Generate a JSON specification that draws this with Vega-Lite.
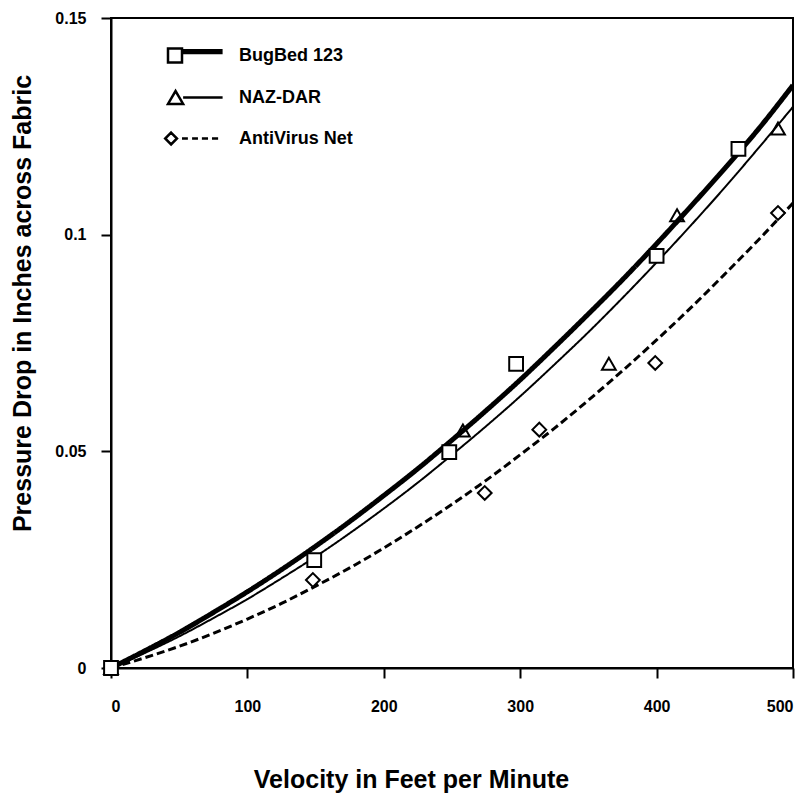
{
  "$schema": "https://vega.github.io/schema/vega-lite/v6.json",
  "width": 682,
  "height": 650,
  "autosize": "none",
  "padding": {"left": 111, "top": 18, "right": 5, "bottom": 125},
  "background": "white",
  "config": {
    "view": {"stroke": "black", "strokeWidth": 2},
    "font": "Liberation Sans",
    "axis": {
      "domainColor": "black", "domainWidth": 2, "tickColor": "black", "tickWidth": 2, "tickSize": 10,
      "labelFont": "Liberation Sans", "labelFontWeight": "bold", "labelFontSize": 16, "labelColor": "black",
      "titleFont": "Liberation Sans", "titleFontWeight": "bold", "titleFontSize": 25, "titleColor": "black",
      "grid": false
    }
  },
  "datasets": {
    "curves": [
      {"series": "BugBed 123", "x": 0, "y": 0},
      {"series": "BugBed 123", "x": 25, "y": 0.0040},
      {"series": "BugBed 123", "x": 50, "y": 0.0082},
      {"series": "BugBed 123", "x": 75, "y": 0.0128},
      {"series": "BugBed 123", "x": 100, "y": 0.0176},
      {"series": "BugBed 123", "x": 125, "y": 0.0227},
      {"series": "BugBed 123", "x": 150, "y": 0.0281},
      {"series": "BugBed 123", "x": 175, "y": 0.0338},
      {"series": "BugBed 123", "x": 200, "y": 0.0398},
      {"series": "BugBed 123", "x": 225, "y": 0.0460},
      {"series": "BugBed 123", "x": 250, "y": 0.0526},
      {"series": "BugBed 123", "x": 275, "y": 0.0594},
      {"series": "BugBed 123", "x": 300, "y": 0.0665},
      {"series": "BugBed 123", "x": 325, "y": 0.0740},
      {"series": "BugBed 123", "x": 350, "y": 0.0817},
      {"series": "BugBed 123", "x": 375, "y": 0.0896},
      {"series": "BugBed 123", "x": 400, "y": 0.0979},
      {"series": "BugBed 123", "x": 425, "y": 0.1065},
      {"series": "BugBed 123", "x": 450, "y": 0.1153},
      {"series": "BugBed 123", "x": 475, "y": 0.1245},
      {"series": "BugBed 123", "x": 500, "y": 0.1345},
      {"series": "NAZ-DAR", "x": 0, "y": 0},
      {"series": "NAZ-DAR", "x": 25, "y": 0.0035},
      {"series": "NAZ-DAR", "x": 50, "y": 0.0073},
      {"series": "NAZ-DAR", "x": 75, "y": 0.0115},
      {"series": "NAZ-DAR", "x": 100, "y": 0.0159},
      {"series": "NAZ-DAR", "x": 125, "y": 0.0207},
      {"series": "NAZ-DAR", "x": 150, "y": 0.0257},
      {"series": "NAZ-DAR", "x": 175, "y": 0.0311},
      {"series": "NAZ-DAR", "x": 200, "y": 0.0368},
      {"series": "NAZ-DAR", "x": 225, "y": 0.0428},
      {"series": "NAZ-DAR", "x": 250, "y": 0.0492},
      {"series": "NAZ-DAR", "x": 275, "y": 0.0558},
      {"series": "NAZ-DAR", "x": 300, "y": 0.0627},
      {"series": "NAZ-DAR", "x": 325, "y": 0.0700},
      {"series": "NAZ-DAR", "x": 350, "y": 0.0775},
      {"series": "NAZ-DAR", "x": 375, "y": 0.0854},
      {"series": "NAZ-DAR", "x": 400, "y": 0.0936},
      {"series": "NAZ-DAR", "x": 425, "y": 0.1021},
      {"series": "NAZ-DAR", "x": 450, "y": 0.1109},
      {"series": "NAZ-DAR", "x": 475, "y": 0.1201},
      {"series": "NAZ-DAR", "x": 500, "y": 0.1295},
      {"series": "AntiVirus Net", "x": 0, "y": 0},
      {"series": "AntiVirus Net", "x": 25, "y": 0.0024},
      {"series": "AntiVirus Net", "x": 50, "y": 0.0050},
      {"series": "AntiVirus Net", "x": 75, "y": 0.0080},
      {"series": "AntiVirus Net", "x": 100, "y": 0.0113},
      {"series": "AntiVirus Net", "x": 125, "y": 0.0149},
      {"series": "AntiVirus Net", "x": 150, "y": 0.0189},
      {"series": "AntiVirus Net", "x": 175, "y": 0.0231},
      {"series": "AntiVirus Net", "x": 200, "y": 0.0277},
      {"series": "AntiVirus Net", "x": 225, "y": 0.0326},
      {"series": "AntiVirus Net", "x": 250, "y": 0.0378},
      {"series": "AntiVirus Net", "x": 275, "y": 0.0433},
      {"series": "AntiVirus Net", "x": 300, "y": 0.0492},
      {"series": "AntiVirus Net", "x": 325, "y": 0.0553},
      {"series": "AntiVirus Net", "x": 350, "y": 0.0618},
      {"series": "AntiVirus Net", "x": 375, "y": 0.0686},
      {"series": "AntiVirus Net", "x": 400, "y": 0.0757},
      {"series": "AntiVirus Net", "x": 425, "y": 0.0831},
      {"series": "AntiVirus Net", "x": 450, "y": 0.0909},
      {"series": "AntiVirus Net", "x": 475, "y": 0.0989},
      {"series": "AntiVirus Net", "x": 500, "y": 0.1073}
    ],
    "points": [
      {"series": "AntiVirus Net", "x": 0, "y": 0},
      {"series": "AntiVirus Net", "x": 148, "y": 0.0203},
      {"series": "AntiVirus Net", "x": 274, "y": 0.0404},
      {"series": "AntiVirus Net", "x": 314, "y": 0.055},
      {"series": "AntiVirus Net", "x": 399, "y": 0.0704},
      {"series": "AntiVirus Net", "x": 489, "y": 0.105},
      {"series": "NAZ-DAR", "x": 0, "y": 0},
      {"series": "NAZ-DAR", "x": 258, "y": 0.0548},
      {"series": "NAZ-DAR", "x": 365, "y": 0.0702},
      {"series": "NAZ-DAR", "x": 415, "y": 0.1045},
      {"series": "NAZ-DAR", "x": 489, "y": 0.1245},
      {"series": "BugBed 123", "x": 0, "y": 0},
      {"series": "BugBed 123", "x": 149, "y": 0.0249},
      {"series": "BugBed 123", "x": 248, "y": 0.0498},
      {"series": "BugBed 123", "x": 297, "y": 0.0702},
      {"series": "BugBed 123", "x": 400, "y": 0.0951},
      {"series": "BugBed 123", "x": 460, "y": 0.1198}
    ]
  },
  "encoding": {
    "x": {
      "field": "x", "type": "quantitative",
      "scale": {"domain": [0, 500], "nice": false, "zero": false},
      "axis": {
        "values": [0, 100, 200, 300, 400, 500], "labelPadding": 20,
        "title": "Velocity in Feet per Minute",
        "titleX": 300, "titleY": 119, "titleBaseline": "alphabetic", "titleAlign": "center", "titleAnchor": "start"
      }
    },
    "y": {
      "field": "y", "type": "quantitative",
      "scale": {"domain": [0, 0.15], "nice": false},
      "axis": {
        "values": [0, 0.05, 0.1, 0.15], "labelExpr": "'' + datum.value", "labelPadding": 15,
        "title": "Pressure Drop in Inches across Fabric",
        "titleX": -81, "titleY": 285, "titleAngle": -90, "titleBaseline": "alphabetic", "titleAlign": "center", "titleAnchor": "start"
      }
    }
  },
  "layer": [
    {
      "data": {"name": "curves"},
      "mark": {"type": "line", "color": "black", "interpolate": "monotone", "clip": true},
      "encoding": {
        "detail": {"field": "series", "type": "nominal"},
        "strokeWidth": {
          "condition": [
            {"test": "datum.series === 'BugBed 123'", "value": 5},
            {"test": "datum.series === 'AntiVirus Net'", "value": 3}
          ],
          "value": 2
        },
        "strokeDash": {
          "condition": {"test": "datum.series === 'AntiVirus Net'", "value": [8, 4]},
          "value": [1, 0]
        }
      }
    },
    {
      "data": {"name": "points"},
      "mark": {"type": "point", "filled": true, "stroke": "black", "strokeWidth": 2, "opacity": 1, "size": 190, "clip": false},
      "encoding": {
        "shape": {
          "condition": [
            {"test": "datum.series === 'NAZ-DAR'", "value": "triangle-up"},
            {"test": "datum.series === 'AntiVirus Net'", "value": "diamond"}
          ],
          "value": "square"
        },
        "fill": {
          "condition": {"test": "datum.series === 'NAZ-DAR'", "value": "transparent"},
          "value": "white"
        }
      }
    },
    {
      "data": {"name": "points"},
      "mark": {"type": "point", "filled": false, "color": "black", "strokeWidth": 2.5, "opacity": 0, "size": 3136, "clip": true},
      "encoding": {
        "shape": {
          "field": "series", "type": "nominal",
          "scale": {
            "domain": ["BugBed 123", "NAZ-DAR", "AntiVirus Net"],
            "range": [
              "M-1,-0.25 H-0.5 V0.25 H-1 Z M-0.5,-0.19 H0.95 M-0.5,-0.14 H0.95 M-0.5,-0.09 H0.95",
              "M-1,0.23 L-0.46,0.23 L-0.73,-0.23 Z M-0.46,0 H0.95",
              "M-0.89,-0.21 L-0.68,0 L-0.89,0.21 L-1.1,0 Z M-0.5,0 H-0.29 M-0.14,0 H0.07 M0.21,0 H0.43 M0.57,0 H0.79"
            ]
          },
          "legend": {
            "orient": "none", "legendX": 55.5, "legendY": 8, "title": null, "padding": 0,
            "labelFont": "Liberation Sans", "labelFontWeight": "bold", "labelFontSize": 18, "labelColor": "black",
            "labelOffset": 13.5, "rowPadding": -10.5,
            "symbolSize": 3136, "symbolStrokeWidth": 2.5, "symbolStrokeColor": "black", "symbolFillColor": "transparent", "symbolOpacity": 1
          }
        }
      }
    }
  ]
}
